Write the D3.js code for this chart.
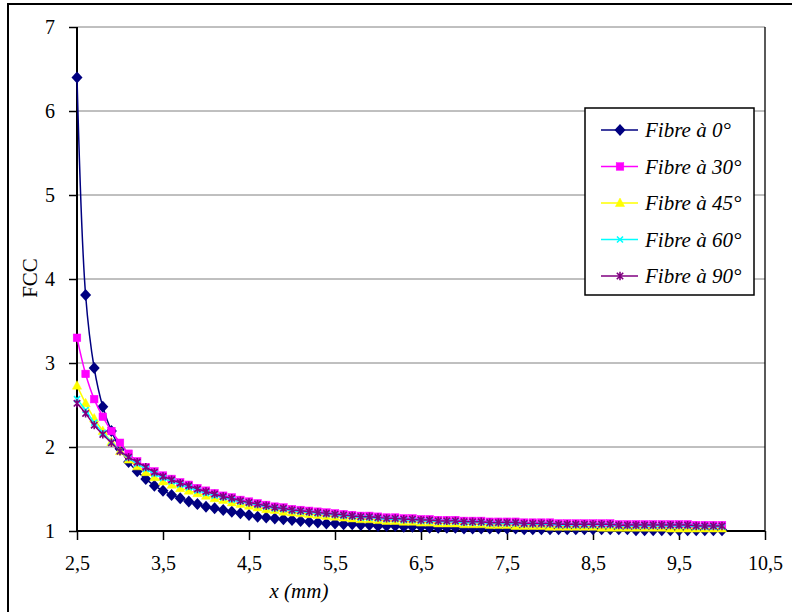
<!DOCTYPE html>
<html><head><meta charset="utf-8">
<script src="https://cdn.jsdelivr.net/npm/d3@7"></script>
<style>body{margin:0;background:#fff}svg{display:block}text{font-family:"Liberation Serif","Times New Roman",serif;fill:#000}</style>
</head><body><svg id="c" width="792" height="612"></svg>
<script>
// x positions (mm): 2.5 .. 10.0 step 0.1
const xValues = [2.5,2.6,2.7,2.8,2.9,3.0,3.1,3.2,3.3,3.4,3.5,3.6,3.7,3.8,3.9,4.0,4.1,4.2,4.3,4.4,4.5,4.6,4.7,4.8,4.9,5.0,5.1,5.2,5.3,5.4,5.5,5.6,5.7,5.8,5.9,6.0,6.1,6.2,6.3,6.4,6.5,6.6,6.7,6.8,6.9,7.0,7.1,7.2,7.3,7.4,7.5,7.6,7.7,7.8,7.9,8.0,8.1,8.2,8.3,8.4,8.5,8.6,8.7,8.8,8.9,9.0,9.1,9.2,9.3,9.4,9.5,9.6,9.7,9.8,9.9,10.0];
const fibre0 = [6.40,3.81,2.94,2.48,2.19,1.98,1.82,1.71,1.62,1.54,
 1.48,1.43,1.39,1.35,1.32,1.29,1.27,1.25,1.23,1.21,
 1.19,1.17,1.16,1.15,1.14,1.13,1.12,1.11,1.10,1.09,
 1.09,1.08,1.08,1.07,1.07,1.06,1.06,1.06,1.05,1.05,
 1.05,1.04,1.04,1.04,1.04,1.03,1.03,1.03,1.03,1.03,
 1.03,1.03,1.02,1.02,1.02,1.02,1.02,1.02,1.02,1.02,
 1.02,1.02,1.02,1.02,1.02,1.01,1.01,1.01,1.01,1.01,
 1.01,1.01,1.01,1.01,1.01,1.01];
const fibre30 = [3.30,2.87,2.57,2.36,2.19,2.05,1.92,1.83,1.76,1.71,
 1.66,1.62,1.58,1.55,1.51,1.48,1.45,1.42,1.40,1.37,
 1.35,1.33,1.31,1.29,1.28,1.26,1.25,1.24,1.23,1.22,
 1.21,1.20,1.19,1.18,1.18,1.17,1.16,1.16,1.15,1.15,
 1.14,1.14,1.13,1.13,1.13,1.12,1.12,1.12,1.11,1.11,
 1.11,1.11,1.10,1.10,1.10,1.10,1.09,1.09,1.09,1.09,
 1.09,1.09,1.09,1.08,1.08,1.08,1.08,1.08,1.08,1.08,
 1.08,1.08,1.07,1.07,1.07,1.07];
const fibre45 = [2.73,2.52,2.34,2.19,2.06,1.95,1.85,1.77,1.70,1.64,
 1.59,1.55,1.51,1.48,1.45,1.42,1.39,1.37,1.34,1.32,
 1.30,1.28,1.26,1.25,1.23,1.22,1.21,1.20,1.19,1.18,
 1.17,1.16,1.15,1.14,1.14,1.13,1.12,1.12,1.11,1.11,
 1.10,1.10,1.09,1.09,1.09,1.08,1.08,1.08,1.07,1.07,
 1.07,1.06,1.06,1.06,1.06,1.05,1.05,1.05,1.05,1.05,
 1.05,1.04,1.04,1.04,1.04,1.04,1.04,1.04,1.04,1.03,
 1.03,1.03,1.03,1.03,1.03,1.03];
const fibre60 = [2.57,2.44,2.29,2.17,2.06,1.95,1.87,1.80,1.74,1.68,
 1.63,1.59,1.55,1.52,1.48,1.45,1.42,1.40,1.37,1.35,
 1.33,1.31,1.29,1.27,1.26,1.24,1.23,1.22,1.21,1.20,
 1.19,1.18,1.17,1.16,1.16,1.15,1.14,1.14,1.13,1.13,
 1.12,1.12,1.11,1.11,1.11,1.10,1.10,1.10,1.09,1.09,
 1.09,1.09,1.08,1.08,1.08,1.08,1.07,1.07,1.07,1.07,
 1.07,1.07,1.07,1.06,1.06,1.06,1.06,1.06,1.06,1.06,
 1.06,1.06,1.05,1.05,1.05,1.05];
const fibre90 = [2.52,2.40,2.26,2.15,2.05,1.95,1.88,1.82,1.76,1.70,
 1.65,1.61,1.57,1.54,1.50,1.47,1.44,1.41,1.39,1.36,
 1.34,1.32,1.30,1.28,1.27,1.25,1.24,1.23,1.22,1.21,
 1.20,1.19,1.18,1.17,1.17,1.16,1.15,1.15,1.14,1.14,
 1.13,1.13,1.12,1.12,1.12,1.11,1.11,1.11,1.10,1.10,
 1.10,1.10,1.09,1.09,1.09,1.09,1.08,1.08,1.08,1.08,
 1.08,1.08,1.08,1.07,1.07,1.07,1.07,1.07,1.07,1.07,
 1.07,1.07,1.06,1.06,1.06,1.06];
const seriesNames = ["Fibre à 0°","Fibre à 30°","Fibre à 45°","Fibre à 60°","Fibre à 90°"];
const seriesValues = [fibre0, fibre30, fibre45, fibre60, fibre90];
const seriesColors = ["#000080","#FF00FF","#FFFF00","#00FFFF","#800080"];
const seriesMarkers = ["diamond","square","triangle","x","star"];
const xTicks = [2.5,3.5,4.5,5.5,6.5,7.5,8.5,9.5,10.5];
const yTicks = [1,2,3,4,5,6,7];
const xTitle = "x (mm)";
const yTitle = "FCC";

const svg = d3.select("#c");
const L=77, R=765, T=27, B=531;
const x = d3.scaleLinear().domain([2.5,10.5]).range([L,R]);
const y = d3.scaleLinear().domain([1,7]).range([B,T]);
const fmt = d => String(d).replace(".", ",");

// outer frame
svg.append("rect").attr("x",8).attr("y",4).attr("width",800).attr("height",620)
  .attr("fill","none").attr("stroke","#000").attr("stroke-width",2);

// gridlines
svg.append("g").selectAll("line").data(yTicks.filter(d=>d>1)).join("line")
  .attr("x1",L).attr("x2",R).attr("y1",d=>y(d)).attr("y2",d=>y(d))
  .attr("stroke","#808080").attr("stroke-width",1);
// right border of plot
svg.append("line").attr("x1",R).attr("x2",R).attr("y1",T).attr("y2",B).attr("stroke","#000").attr("stroke-width",1.3);

// axes
const yAxis = d3.axisLeft(y).tickValues(yTicks).tickFormat(d=>d).tickSize(8).tickPadding(14);
const gy = svg.append("g").attr("transform",`translate(${L},0)`).call(yAxis);
const xAxis = d3.axisBottom(x).tickValues(xTicks).tickFormat(fmt).tickSize(9).tickPadding(16);
const gx = svg.append("g").attr("transform",`translate(0,${B})`).call(xAxis);
[gx,gy].forEach(g=>{
  g.select(".domain").attr("stroke","#000").attr("stroke-width",2);
  g.selectAll(".tick line").attr("stroke","#000").attr("stroke-width",1.5);
  g.selectAll("text").attr("font-family","Liberation Serif").attr("font-size",20).attr("fill","#000");
});
gy.select(".domain").attr("d",`M-0,${T}V${B}`);
gx.select(".domain").attr("d",`M${L},0H${R}`);

// titles
svg.append("text").attr("x",299).attr("y",598).attr("text-anchor","middle")
  .attr("font-size",21).attr("font-style","italic").text(xTitle);
svg.append("text").attr("transform","translate(37,278) rotate(-90)").attr("text-anchor","middle")
  .attr("font-size",21).text(yTitle);

// markers
function marker(g, type, color, s){
  if(type==="diamond") g.append("path").attr("d",d3.symbol(d3.symbolDiamond2,70)()).attr("transform","rotate(45)").attr("fill",color).attr("stroke",color);
  else if(type==="diamond") {}
  if(type==="square") g.append("rect").attr("x",-3.8).attr("y",-3.8).attr("width",7.6).attr("height",7.6).attr("fill",color).attr("stroke",color).attr("stroke-width",0.5);
  if(type==="triangle") g.append("path").attr("d","M0,-5L4.6,3.5L-4.6,3.5Z").attr("fill",color).attr("stroke",color).attr("stroke-width",0.5);
  if(type==="x") g.append("path").attr("d","M-3,-3L3,3M-3,3L3,-3").attr("stroke",color).attr("stroke-width",1.6);
  if(type==="star") g.append("path").attr("d","M-3.2,-3.2L3.2,3.2M-3.2,3.2L3.2,-3.2M0,-4.2V4.2").attr("stroke",color).attr("stroke-width",1.6);
}
function diamondPath(){ return "M0,-6L5.5,0L0,6L-5.5,0Z"; }

const line = d3.line().x((d,i)=>x(xValues[i])).y(d=>y(d)).curve(d3.curveCatmullRom.alpha(0.5));
seriesValues.forEach((vals,si)=>{
  const g = svg.append("g");
  g.append("path").datum(vals).attr("d",line).attr("fill","none")
    .attr("stroke",seriesColors[si]).attr("stroke-width",1.5);
  vals.forEach((v,i)=>{
    const m = g.append("g").attr("transform",`translate(${x(xValues[i])},${y(v)})`);
    if(seriesMarkers[si]==="diamond") m.append("path").attr("d",diamondPath()).attr("fill",seriesColors[si]);
    else marker(m, seriesMarkers[si], seriesColors[si]);
  });
});

// legend
const lg = svg.append("g");
lg.append("rect").attr("x",585).attr("y",108).attr("width",169).attr("height",187)
  .attr("fill","#fff").attr("stroke","#000").attr("stroke-width",1.5);
seriesNames.forEach((n,i)=>{
  const cy = 130 + i*36.5;
  lg.append("line").attr("x1",601).attr("x2",638).attr("y1",cy).attr("y2",cy)
    .attr("stroke",seriesColors[i]).attr("stroke-width",1.5);
  const m = lg.append("g").attr("transform",`translate(620,${cy})`);
  if(seriesMarkers[i]==="diamond") m.append("path").attr("d",diamondPath()).attr("fill",seriesColors[i]);
  else marker(m, seriesMarkers[i], seriesColors[i]);
  lg.append("text").attr("x",645).attr("y",cy+7).attr("font-size",21).attr("font-style","italic").text(n);
});
</script></body></html>
